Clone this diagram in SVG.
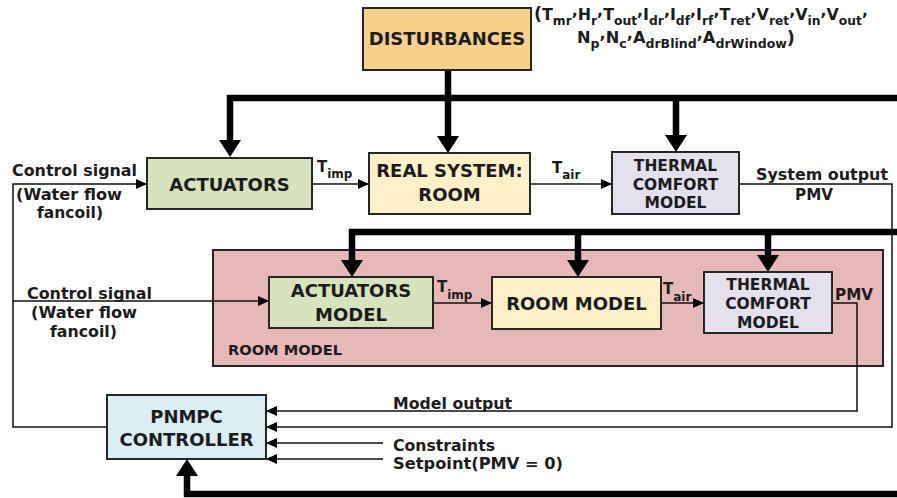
<svg xmlns="http://www.w3.org/2000/svg" width="897" height="498" viewBox="0 0 897 498">
  <defs>
    <style>
      .t{font-family:"DejaVu Sans",Verdana,sans-serif;font-weight:bold;fill:#1c1c1c}
      .b18{font-size:18px}
      .b15{font-size:15.5px}
      .l15{font-size:15px}
      .sub{font-size:12px}
      .box{stroke:#262626;stroke-width:2}
      .thin{fill:none;stroke:#111;stroke-width:1.5}
      .thick{fill:none;stroke:#000;stroke-width:6.5;stroke-linejoin:miter}
      .thinA{marker-end:url(#arr)}
      .thickA{marker-end:url(#arrBig)}
    </style>
    <marker id="arr" markerUnits="userSpaceOnUse" markerWidth="11" markerHeight="10" refX="11" refY="5" orient="auto">
      <path d="M0,0 L11,5 L0,10 z" fill="#000"/>
    </marker>
    <marker id="arrBig" markerUnits="userSpaceOnUse" markerWidth="18" markerHeight="22" refX="0" refY="11" orient="auto">
      <path d="M0,0 L17,11 L0,22 z" fill="#000"/>
    </marker>
  </defs>

  <rect width="897" height="498" fill="#fff"/>

  <!-- room model container -->
  <g id="room-model-container">
    <rect x="213" y="250" width="670" height="116" fill="#e6b9b8" class="box"/>
    <text x="228" y="355" class="t" font-size="14.5px" textLength="114" lengthAdjust="spacingAndGlyphs">ROOM MODEL</text>
  </g>

  <!-- connectors -->
  <g id="connectors">
    <!-- disturbance buses -->
    <path class="thick" d="M448,70 V98"/>
    <path class="thick thickA" d="M897,98 H230 V140"/>
    <path class="thick thickA" d="M448,98 V136"/>
    <path class="thick thickA" d="M676,98 V135"/>
    <path class="thick thickA" d="M897,232 H352 V260"/>
    <path class="thick thickA" d="M578,232 V260"/>
    <path class="thick thickA" d="M768,232 V255"/>
    <path class="thick thickA" d="M897,494 H187 V476"/>

    <!-- control signal -->
    <path class="thin thinA" d="M107,427 H13 V184 H147"/>
    <path class="thin thinA" d="M13,301 H269"/>

    <!-- real system chain -->
    <path class="thin thinA" d="M312,184 H369"/>
    <path class="thin thinA" d="M530,184 H612"/>
    <path class="thin thinA" d="M739,184 H892 V427 H266"/>

    <!-- model chain -->
    <path class="thin thinA" d="M433,303 H492"/>
    <path class="thin thinA" d="M661,303 H704"/>
    <path class="thin thinA" d="M832,303 H857 V411 H266"/>

    <!-- constraints and setpoint -->
    <path class="thin thinA" d="M383,443 H266"/>
    <path class="thin thinA" d="M383,459 H266"/>
  </g>

  <!-- edge labels -->
  <g id="labels">
    <text class="t l15" x="12" y="176" textLength="125" lengthAdjust="spacingAndGlyphs">Control signal</text>
    <text class="t l15" x="16" y="200" textLength="106" lengthAdjust="spacingAndGlyphs">(Water flow</text>
    <text class="t l15" x="37" y="218" textLength="66" lengthAdjust="spacingAndGlyphs">fancoil)</text>

    <text class="t l15" x="27" y="299" textLength="125" lengthAdjust="spacingAndGlyphs">Control signal</text>
    <text class="t l15" x="31" y="318" textLength="106" lengthAdjust="spacingAndGlyphs">(Water flow</text>
    <text class="t l15" x="50" y="337" textLength="67" lengthAdjust="spacingAndGlyphs">fancoil)</text>

    <text class="t l15" x="317" y="172">T<tspan class="sub" dy="6">imp</tspan></text>
    <text class="t l15" x="552" y="173">T<tspan class="sub" dy="6">air</tspan></text>
    <text class="t l15" x="437" y="292">T<tspan class="sub" dy="7">imp</tspan></text>
    <text class="t l15" x="663" y="294">T<tspan class="sub" dy="7">air</tspan></text>

    <text class="t l15" x="756" y="180" textLength="132" lengthAdjust="spacingAndGlyphs">System output</text>
    <text class="t l15" x="795" y="200" textLength="38" lengthAdjust="spacingAndGlyphs">PMV</text>
    <text class="t l15" x="835" y="300" textLength="38" lengthAdjust="spacingAndGlyphs">PMV</text>

    <text class="t l15" x="393" y="409" textLength="119" lengthAdjust="spacingAndGlyphs">Model output</text>
    <text class="t l15" x="393" y="451" textLength="102" lengthAdjust="spacingAndGlyphs">Constraints</text>
    <text class="t l15" x="393" y="469" textLength="170" lengthAdjust="spacingAndGlyphs">Setpoint(PMV = 0)</text>

    <!-- disturbance variables -->
    <text class="t" font-size="15.5px" x="534" y="20" textLength="334" lengthAdjust="spacingAndGlyphs"><tspan font-size="17px">(</tspan>T<tspan class="sub" dy="5">mr</tspan><tspan dy="-9">,</tspan><tspan dy="4">H</tspan><tspan class="sub" dy="5">r</tspan><tspan dy="-9">,</tspan><tspan dy="4">T</tspan><tspan class="sub" dy="5">out</tspan><tspan dy="-9">,</tspan><tspan dy="4">I</tspan><tspan class="sub" dy="5">dr</tspan><tspan dy="-9">,</tspan><tspan dy="4">I</tspan><tspan class="sub" dy="5">df</tspan><tspan dy="-9">,</tspan><tspan dy="4">I</tspan><tspan class="sub" dy="5">rf</tspan><tspan dy="-9">,</tspan><tspan dy="4">T</tspan><tspan class="sub" dy="5">ret</tspan><tspan dy="-9">,</tspan><tspan dy="4">V</tspan><tspan class="sub" dy="5">ret</tspan><tspan dy="-9">,</tspan><tspan dy="4">V</tspan><tspan class="sub" dy="5">in</tspan><tspan dy="-9">,</tspan><tspan dy="4">V</tspan><tspan class="sub" dy="5">out</tspan><tspan dy="-9">,</tspan></text>
    <text class="t" font-size="15.5px" x="577" y="43" textLength="218" lengthAdjust="spacingAndGlyphs">N<tspan class="sub" dy="5">p</tspan><tspan dy="-9">,</tspan><tspan dy="4">N</tspan><tspan class="sub" dy="5">c</tspan><tspan dy="-9">,</tspan><tspan dy="4">A</tspan><tspan class="sub" dy="5">drBlind</tspan><tspan dy="-9">,</tspan><tspan dy="4">A</tspan><tspan class="sub" dy="5">drWindow</tspan><tspan font-size="17px" dy="-4">)</tspan></text>
  </g>

  <!-- nodes -->
  <g id="disturbances">
    <rect x="363" y="8" width="168" height="62" fill="#f9d08a" class="box"/>
    <text class="t b18" x="447" y="45" text-anchor="middle">DISTURBANCES</text>
  </g>

  <g id="actuators">
    <rect x="147" y="158" width="165" height="51" fill="#d7e3bd" class="box"/>
    <text class="t b18" x="229.5" y="191" text-anchor="middle">ACTUATORS</text>
  </g>

  <g id="real-system">
    <rect x="369" y="153" width="161" height="61" fill="#fdf0c9" class="box"/>
    <text class="t b18" x="449.5" y="177" text-anchor="middle">REAL SYSTEM:</text>
    <text class="t b18" x="449.5" y="201" text-anchor="middle">ROOM</text>
  </g>

  <g id="thermal-comfort">
    <rect x="612" y="152" width="127" height="62" fill="#e4e0ed" class="box"/>
    <text class="t b15" x="675.5" y="171" text-anchor="middle">THERMAL</text>
    <text class="t b15" x="675.5" y="190" text-anchor="middle">COMFORT</text>
    <text class="t b15" x="675.5" y="208" text-anchor="middle">MODEL</text>
  </g>

  <g id="actuators-model">
    <rect x="269" y="277" width="164" height="51" fill="#d7e3bd" class="box"/>
    <text class="t b18" x="351" y="297" text-anchor="middle">ACTUATORS</text>
    <text class="t b18" x="351" y="321" text-anchor="middle">MODEL</text>
  </g>

  <g id="room-model">
    <rect x="492" y="277" width="169" height="52" fill="#fdf0c9" class="box"/>
    <text class="t b18" x="576.5" y="310" text-anchor="middle">ROOM MODEL</text>
  </g>

  <g id="thermal-comfort-model">
    <rect x="704" y="272" width="128" height="61" fill="#e4e0ed" class="box"/>
    <text class="t b15" x="768" y="290" text-anchor="middle">THERMAL</text>
    <text class="t b15" x="768" y="309" text-anchor="middle">COMFORT</text>
    <text class="t b15" x="768" y="328" text-anchor="middle">MODEL</text>
  </g>

  <g id="pnmpc-controller">
    <rect x="107" y="395" width="159" height="64" fill="#dbeef4" class="box"/>
    <text class="t b18" x="186.5" y="423" text-anchor="middle">PNMPC</text>
    <text class="t b18" x="186.5" y="446" text-anchor="middle">CONTROLLER</text>
  </g>
</svg>
